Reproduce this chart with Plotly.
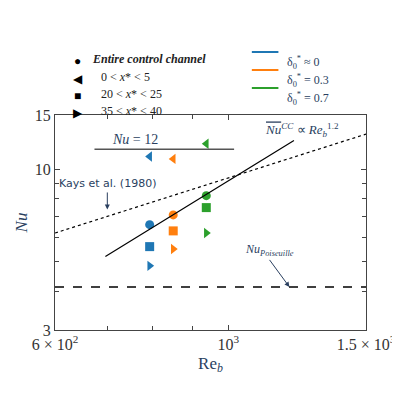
import numpy as np
from plotly import graph_objects as go

# Data
colors = ["#1f77b4", "#ff7f0e", "#2ca02c"]
case_labels = ["δ<sub>0</sub><sup>*</sup> ≈ 0", "δ<sub>0</sub><sup>*</sup> = 0.3", "δ<sub>0</sub><sup>*</sup> = 0.7"]
Re = [793, 850, 937]
Nu_entire = [6.6, 7.1, 8.2]
Nu_inlet = [11.0, 10.8, 12.1]
Nu_mid = [5.6, 6.3, 7.5]
Nu_out = [4.85, 5.5, 6.2]

nu12_re = [674, 1017]
nu12_val = [11.6, 11.6]
fit_re = [696, 1213]
fit_nu = [5.2, 12.4]
kays_re = [600, 1500]
kays_nu = [6.2, 13.0]
pois_re = [600, 1500]
pois_nu = [4.14, 4.14]

FONT = "Liberation Serif"

fig = go.Figure()
for sym, vals in [("circle", Nu_entire), ("triangle-left", Nu_inlet),
                  ("square", Nu_mid), ("triangle-right", Nu_out)]:
    fig.add_trace(go.Scatter(x=Re, y=vals, mode="markers",
                             marker=dict(symbol=sym, color=colors, size=9),
                             showlegend=False))

fig.add_trace(go.Scatter(x=nu12_re, y=nu12_val, mode="lines",
                         line=dict(color="#555", width=1.5), showlegend=False))
fig.add_trace(go.Scatter(x=fit_re, y=fit_nu, mode="lines",
                         line=dict(color="black", width=1.2), showlegend=False))
fig.add_trace(go.Scatter(x=kays_re, y=kays_nu, mode="lines",
                         line=dict(color="black", width=1.2, dash="dot"), showlegend=False))
fig.add_trace(go.Scatter(x=pois_re, y=pois_nu, mode="lines",
                         line=dict(color="black", width=1.5, dash="dash"), showlegend=False))

# custom legend, positions given in figure pixels and converted to plot-area paper units
L, R, T, B = 47, 37, 107, 78
PW, PH = 400 - L - R, 400 - T - B


def px(x):
    return (x - L) / PW


def py(y):
    return (400 - B - y) / PH


marker_rows = [("●", "<b><i>Entire control channel</i></b>", 42),
               ("◀", "0 < <i>x</i>* < 5", 60),
               ("■", "20 < <i>x</i>* < 25", 77),
               ("▶", "35 < <i>x</i>* < 40", 94)]
annos = []
shapes = []
for s, t, yy in marker_rows:
    annos.append(dict(x=px(70), y=py(yy), xref="paper", yref="paper", text=s,
                      showarrow=False, font=dict(size=12, color="black"), xanchor="center"))
    annos.append(dict(x=px(83 if "Entire" in t else 92), y=py(yy), xref="paper",
                      yref="paper", text=t, showarrow=False, xanchor="left",
                      font=dict(size=12, family=FONT, color="#222")))
for c, lab, yy in zip(colors, case_labels, [44, 62, 80]):
    shapes.append(dict(type="line", xref="paper", yref="paper", x0=px(247), x1=px(274),
                       y0=py(yy), y1=py(yy), line=dict(color=c, width=2)))
    annos.append(dict(x=px(281), y=py(yy), xref="paper", yref="paper", text=lab,
                      showarrow=False, xanchor="left", font=dict(size=12, family=FONT)))

annos += [
    dict(x=np.log10(759), y=np.log10(12.5), text="<i>Nu</i> = 12", showarrow=False,
         font=dict(size=14, family=FONT)),
    dict(x=np.log10(1242), y=np.log10(13.4), text="<span style='text-decoration:overline'><i>Nu</i></span><sup><i>CC</i></sup> ∝ <i>Re</i><sub><i>b</i></sub><sup>1.2</sup>",
         showarrow=False, font=dict(size=13, family=FONT)),
    dict(x=np.log10(700), y=np.log10(7.4), ax=np.log10(700), ay=np.log10(8.4),
         axref="x", ayref="y", text="Kays et al. (1980)", showarrow=True, arrowhead=2,
         arrowsize=1, arrowwidth=1, yanchor="bottom", font=dict(size=11, family="DejaVu Sans")),
    dict(x=np.log10(1197), y=np.log10(4.14), ax=np.log10(1129), ay=np.log10(5.07),
         axref="x", ayref="y", text="<i>Nu</i><sub><i>Poiseuille</i></sub>", showarrow=True,
         arrowhead=2, arrowsize=1, arrowwidth=1, yanchor="bottom", font=dict(size=12, family=FONT)),
]

axis_common = dict(type="log", showgrid=False, ticks="inside", mirror="ticks",
                   showline=True, linecolor="#444", linewidth=1, ticklen=5,
                   tickfont=dict(size=16, family=FONT, color="#333"), zeroline=False)
fig.update_layout(
    width=400, height=400, plot_bgcolor="white", paper_bgcolor="white",
    margin=dict(l=L, r=R, t=T, b=B),
    xaxis=dict(axis_common, range=[np.log10(600), np.log10(1500)],
               tickvals=[600, 1000, 1500], ticktext=["6 × 10<sup>2</sup>", "10<sup>3</sup>", "1.5 × 10<sup>3</sup>"],
               minor=dict(tickvals=[700, 800, 900], ticks="inside", ticklen=4),
               title=dict(text="Re<sub><i>b</i></sub>", font=dict(size=17, family=FONT), standoff=4)),
    yaxis=dict(axis_common, range=[np.log10(3), np.log10(15)],
               tickvals=[3, 10, 15], ticktext=["3", "10", "15"],
               minor=dict(tickvals=[4, 5, 6, 7, 8, 9], ticks="inside", ticklen=4),
               title=dict(text="<i>Nu</i>", font=dict(size=17, family=FONT), standoff=2)),
    annotations=annos, shapes=shapes,
)
fig.write_html("out.html")
